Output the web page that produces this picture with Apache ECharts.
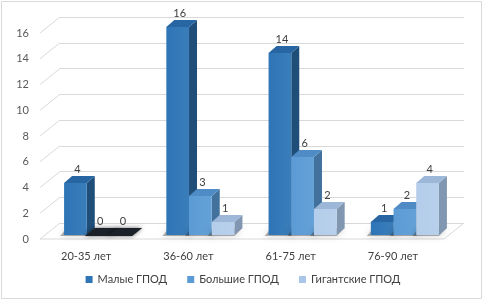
<!DOCTYPE html>
<html>
<head>
<meta charset="utf-8">
<script src="https://cdn.jsdelivr.net/npm/echarts@6/dist/echarts.min.js"></script>
<style>
  html, body { margin: 0; padding: 0; background: #fff; }
  #chart { width: 486px; height: 302px; }
</style>
</head>
<body>
<div id="chart"></div>
<script>
var categories = ['20-35 лет', '36-60 лет', '61-75 лет', '76-90 лет'];
var seriesNames = ['Малые ГПОД', 'Большие ГПОД', 'Гигантские ГПОД'];
var malye = [4, 16, 14, 1];
var bolshie = [0, 3, 6, 2];
var gigant = [0, 1, 2, 4];
var yTicks = [0, 2, 4, 6, 8, 10, 12, 14, 16];

// colours: front, side, top
var palette = [
    { front: '#2e75b6', side: '#1f4e79', top: '#2866a3', legend: '#2e75b6' },
    { front: '#5b9bd5', side: '#41719c', top: '#4f8cc6', legend: '#5b9bd5' },
    { front: '#b4cdea', side: '#8196b1', top: '#9db7d8', legend: '#a9c6e8' }
];
var DX = 8, DY = -7;   // depth of the 3d bars
var WX = 20, WY = -16; // depth of the walls

var chart = echarts.init(document.getElementById('chart'));

var valueLabel = function (x, y, v) {
    return {
        type: 'text',
        style: {
            x: x, y: y, text: String(v),
            align: 'center', verticalAlign: 'middle',
            fill: '#404040', font: '11px Lato'
        }
    };
};

var bar3d = function (k) {
    return function (params, api) {
        var ci = api.value(0), v = api.value(1);
        var base = api.coord([ci, 0]);
        var top = api.coord([ci, v]);
        var band = api.size([1, 0])[0];
        var w = band * 0.222;
        var x = base[0] - 1.5 * w + k * w;
        var y0 = base[1], y1 = top[1];
        var c = palette[k];
        if (v === 0) {
            // flat, dark "empty" bar on the floor
            return {
                type: 'group',
                children: [{
                    type: 'polygon',
                    shape: { points: [[x - 2, y0 + 1], [x + DX, y0 + DY], [x + w + DX + 2, y0 + DY], [x + w, y0 + 1]] },
                    style: { fill: '#1b2129', shadowBlur: 4, shadowColor: 'rgba(0,0,0,0.6)' }
                }, valueLabel(x + w / 2 + 2, y1 + DY - 7, v)]
            };
        }
        return {
            type: 'group',
            children: [{
                type: 'polygon',
                shape: { points: [[x - 4, y0 + 1], [x + w, y0 + 1], [x + w + DX, y0 + DY], [x + DX - 6, y0 + DY + 1]] },
                style: { fill: 'rgba(40,40,40,0.35)', shadowBlur: 6, shadowColor: 'rgba(0,0,0,0.5)' }
            }, {
                type: 'polygon',
                shape: { points: [[x + w, y1], [x + w + DX, y1 + DY], [x + w + DX, y0 + DY], [x + w, y0]] },
                style: { fill: c.side }
            }, {
                type: 'polygon',
                shape: { points: [[x, y1], [x + DX, y1 + DY], [x + w + DX, y1 + DY], [x + w, y1]] },
                style: { fill: c.top }
            }, {
                type: 'rect',
                shape: { x: x, y: y1, width: w, height: y0 - y1 },
                style: {
                    fill: new echarts.graphic.LinearGradient(0, 0, 1, 0, [
                        { offset: 0, color: c.front },
                        { offset: 1, color: echarts.color.lift(c.front, 0.06) }
                    ])
                }
            }, valueLabel(x + w / 2 + 2, y1 + DY - 7, v)]
        };
    };
};

var makeData = function (arr) {
    return arr.map(function (v, i) { return [i, v]; });
};

var seriesArr = [malye, bolshie, gigant];

var series = [{
    // side wall / floor lines
    type: 'custom',
    xAxisIndex: 1, yAxisIndex: 1,
    silent: true, z: 1,
    data: yTicks.map(function (t) { return [0, t]; }),
    renderItem: function (params, api) {
        var t = api.value(1);
        var back = api.coord([0, t]);
        var kids = [{
            type: 'line',
            shape: { x1: back[0] - WX, y1: back[1] - WY, x2: back[0], y2: back[1] },
            style: { stroke: '#d9d9d9', lineWidth: 1 }
        }];
        if (t === 0) {
            var backR = api.coord([1, 0]);
            kids.push({
                type: 'line',
                shape: { x1: back[0] - WX, y1: back[1] - WY, x2: backR[0] - WX, y2: backR[1] - WY },
                style: { stroke: '#d9d9d9', lineWidth: 1 }
            });
            kids.push({
                type: 'line',
                shape: { x1: backR[0] - WX, y1: backR[1] - WY, x2: backR[0], y2: backR[1] },
                style: { stroke: '#d9d9d9', lineWidth: 1 }
            });
        }
        return { type: 'group', children: kids };
    }
}];

seriesArr.forEach(function (arr, k) {
    series.push({
        name: seriesNames[k],
        type: 'custom',
        xAxisIndex: 2, yAxisIndex: 2,
        z: 5 + k,
        itemStyle: { color: palette[k].legend },
        data: makeData(arr),
        renderItem: bar3d(k)
    });
});

var option = {
    animation: false,
    textStyle: { fontFamily: 'Lato' },
    graphic: [{
        type: 'rect',
        shape: { x: 1.5, y: 1.5, width: 480, height: 297 },
        style: { fill: 'none', stroke: '#d9d9d9', lineWidth: 1 },
        silent: true
    }],
    legend: {
        bottom: 12,
        left: 'center',
        icon: 'rect',
        itemWidth: 7,
        itemHeight: 7,
        itemGap: 20,
        textStyle: { color: '#404040', fontSize: 11, fontFamily: 'Lato' },
        data: seriesNames
    },
    grid: [
        // front: axis labels
        { left: 35, right: 42, top: 33, bottom: 63 },
        // back wall
        { left: 60, right: 22, top: 17, bottom: 79 },
        // bars
        { left: 47, right: 30, top: 27, bottom: 67 }
    ],
    xAxis: [{
        gridIndex: 0,
        type: 'category',
        data: categories,
        axisLine: { show: false },
        axisTick: { show: false },
        axisLabel: { color: '#404040', fontSize: 11, margin: 12, fontFamily: 'Lato' }
    }, {
        gridIndex: 1, type: 'value', min: 0, max: 1, show: false
    }, {
        gridIndex: 2, type: 'category', data: categories, show: false
    }],
    yAxis: [{
        gridIndex: 0,
        type: 'value', min: 0, max: 16, interval: 2,
        axisLine: { show: false },
        axisTick: { show: false },
        splitLine: { show: false },
        axisLabel: { color: '#595959', fontSize: 11, margin: 6, fontFamily: 'Lato' }
    }, {
        gridIndex: 1,
        type: 'value', min: 0, max: 16, interval: 2,
        axisLine: { show: false },
        axisTick: { show: false },
        axisLabel: { show: false },
        splitLine: { lineStyle: { color: '#d9d9d9', width: 1 } }
    }, {
        gridIndex: 2,
        type: 'value', min: 0, max: 16, show: false
    }],
    series: series
};
chart.setOption(option);
</script>
</body>
</html>
